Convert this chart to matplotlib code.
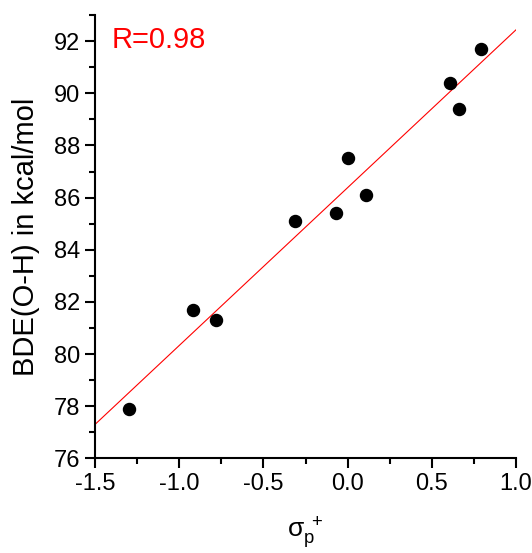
import numpy as np
import matplotlib.pyplot as plt
from matplotlib.ticker import MultipleLocator

plt.rcParams['font.family'] = ['Liberation Sans', 'DejaVu Sans']
plt.rcParams['mathtext.fontset'] = 'custom'
plt.rcParams['mathtext.rm'] = 'Liberation Sans'
plt.rcParams['mathtext.it'] = 'Liberation Sans'
plt.rcParams['mathtext.default'] = 'regular'

# sigma_p+ values and BDE(O-H)
sigma = [-1.30, -0.92, -0.78, -0.31, -0.07, 0.00, 0.11, 0.61, 0.66, 0.79]
bde = [77.9, 81.7, 81.3, 85.1, 85.4, 87.5, 86.1, 90.4, 89.4, 91.7]
r_text = "R=0.98"

slope, intercept = np.polyfit(sigma, bde, 1)
fit_x = np.array([-1.5, 1.0])

fig = plt.figure(figsize=(5.32, 5.53), dpi=100)
ax = fig.add_axes([0.1786, 0.1709, 0.7914, 0.802])

ax.plot(fit_x, slope * fit_x + intercept, color='red', lw=0.8)
ax.scatter(sigma, bde, s=75, color='black', zorder=3)

ax.set_xlim(-1.5, 1.0)
ax.set_ylim(76, 93)
ax.xaxis.set_minor_locator(MultipleLocator(0.25))
ax.yaxis.set_major_locator(MultipleLocator(2))
ax.yaxis.set_minor_locator(MultipleLocator(1))
ax.set_xticks([-1.5, -1.0, -0.5, 0.0, 0.5, 1.0])
ax.set_xticklabels(['-1.5', '-1.0', '-0.5', '0.0', '0.5', '1.0'])

for s in ['top', 'right']:
    ax.spines[s].set_visible(False)
for s in ['left', 'bottom']:
    ax.spines[s].set_linewidth(1.5)

ax.tick_params(which='major', direction='out', length=7, width=1.5, labelsize=17)
ax.tick_params(which='minor', direction='out', length=4, width=1.5)

ax.set_ylabel("BDE(O-H) in kcal/mol", fontsize=21, labelpad=10)
ax.set_xlabel(r"$\sigma_p^{\ +}$", fontsize=19, labelpad=14)
ax.text(0.04, 0.975, r_text, transform=ax.transAxes, color='red', fontsize=21,
        va='top', ha='left')

fig.savefig("out.png", dpi=100)
